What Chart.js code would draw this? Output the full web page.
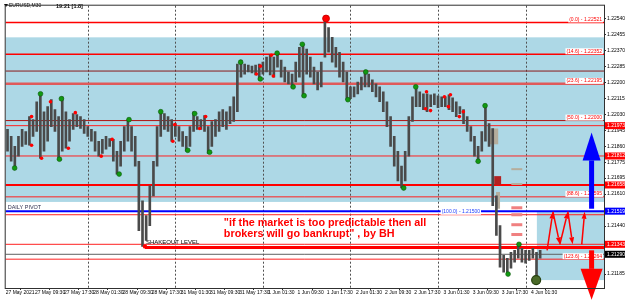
<!DOCTYPE html>
<html>
<head>
<meta charset="utf-8">
<script src="https://cdn.jsdelivr.net/npm/chart.js@4.4.0/dist/chart.umd.min.js"></script>
<style>
  html, body { margin: 0; padding: 0; background: #fff; }
  #wrap { width: 625px; height: 300px; }
</style>
</head>
<body>
<div id="wrap"><canvas id="chart" width="625" height="300"></canvas></div>
<script>
// ======== Data ========
// time axis (one unit = one trading hour from 27 May 01:30)
const timeLabels = ['27 May 2021', '27 May 09:30', '27 May 17:30', '28 May 01:30', '28 May 09:30',
  '28 May 17:30', '31 May 01:30', '31 May 09:30', '31 May 17:30', '1 Jun 01:30', '1 Jun 09:30',
  '1 Jun 17:30', '2 Jun 01:30', '2 Jun 09:30', '2 Jun 17:30', '3 Jun 01:30', '3 Jun 09:30',
  '3 Jun 17:30', '4 Jun 01:30'];
const daySeparators = [22.5, 46.5, 70.5, 94.5, 118.5, 142.5];

const priceTicks = [1.22540, 1.22455, 1.22370, 1.22285, 1.22200, 1.22115, 1.22030, 1.21945,
  1.21860, 1.21775, 1.21695, 1.21610, 1.21440, 1.21185];

// hourly bars EURUSD
const highs = [1.21953, 1.21916, 1.21863, 1.21916, 1.21953, 1.21942, 1.22021, 1.22005, 1.22100, 1.22142,
  1.22047, 1.22074, 1.22111, 1.22058, 1.22021, 1.22126, 1.22047, 1.22005, 1.22037, 1.22032,
  1.22021, 1.22005, 1.21968, 1.21953, 1.21942, 1.21890, 1.21900, 1.21916, 1.21905, 1.21900,
  1.21837, 1.21890, 1.21968, 1.22005, 1.21968, 1.21916, 1.21784, 1.21574, 1.21495, 1.21653,
  1.21784, 1.21968, 1.22047, 1.22037, 1.22021, 1.22005, 1.21984, 1.21968, 1.21942, 1.21916,
  1.21968, 1.22047, 1.22021, 1.22005, 1.22026, 1.21968, 1.21995, 1.22005, 1.22047, 1.22058,
  1.22047, 1.22074, 1.22126, 1.22300, 1.22321, 1.22300, 1.22295, 1.22289, 1.22295, 1.22300,
  1.22310, 1.22337, 1.22352, 1.22337, 1.22363, 1.22321, 1.22284, 1.22258, 1.22247, 1.22310,
  1.22389, 1.22405, 1.22379, 1.22337, 1.22284, 1.22258, 1.22310, 1.22542, 1.22494, 1.22442,
  1.22389, 1.22363, 1.22310, 1.22258, 1.22179, 1.22179, 1.22205, 1.22231, 1.22258, 1.22247,
  1.22216, 1.22195, 1.22179, 1.22153, 1.22100, 1.22021, 1.21916, 1.21837, 1.21758, 1.21837,
  1.22021, 1.22126, 1.22179, 1.22153, 1.22142, 1.22142, 1.22137, 1.22142, 1.22132, 1.22126,
  1.22126, 1.22137, 1.22121, 1.22100, 1.22074, 1.22058, 1.22021, 1.21968, 1.21916, 1.21863,
  1.21942, 1.22079, 1.21984, 1.21958, 1.21600, 1.21442, 1.21285, 1.21269, 1.21300, 1.21311,
  1.21343, 1.21322, 1.21311, 1.21311, 1.21322, 1.21300, 1.21311];
const lows = [1.21837, 1.21784, 1.21742, 1.21811, 1.21863, 1.21874, 1.21869, 1.21916, 1.21942, 1.21800,
  1.21837, 1.21890, 1.21968, 1.21942, 1.21795, 1.21837, 1.21853, 1.21890, 1.21953, 1.21968,
  1.21958, 1.21932, 1.21916, 1.21890, 1.21837, 1.21811, 1.21826, 1.21848, 1.21863, 1.21784,
  1.21716, 1.21758, 1.21837, 1.21890, 1.21837, 1.21758, 1.21416, 1.21332, 1.21364, 1.21442,
  1.21600, 1.21758, 1.21916, 1.21953, 1.21942, 1.21890, 1.21916, 1.21890, 1.21863, 1.21837,
  1.21863, 1.21942, 1.21953, 1.21953, 1.21942, 1.21826, 1.21863, 1.21916, 1.21942, 1.21968,
  1.21953, 1.21984, 1.21995, 1.22047, 1.22231, 1.22247, 1.22258, 1.22253, 1.22242, 1.22216,
  1.22247, 1.22258, 1.22242, 1.22231, 1.22284, 1.22231, 1.22205, 1.22195, 1.22174, 1.22205,
  1.22231, 1.22126, 1.22247, 1.22231, 1.22195, 1.22163, 1.22179, 1.22337, 1.22363, 1.22310,
  1.22284, 1.22231, 1.22205, 1.22111, 1.22116, 1.22126, 1.22142, 1.22163, 1.22179, 1.22179,
  1.22153, 1.22126, 1.22100, 1.22047, 1.21968, 1.21863, 1.21758, 1.21679, 1.21642, 1.21679,
  1.21811, 1.21995, 1.22074, 1.22074, 1.22058, 1.22047, 1.22074, 1.22084, 1.22068, 1.22074,
  1.22074, 1.22058, 1.22047, 1.22021, 1.22037, 1.21984, 1.21942, 1.21890, 1.21811, 1.21784,
  1.21837, 1.21890, 1.21863, 1.21548, 1.21390, 1.21222, 1.21195, 1.21185, 1.21216, 1.21248,
  1.21269, 1.21248, 1.21243, 1.21258, 1.21269, 1.21153, 1.21269];

// swing markers
const greenX = [2.45, 9.54, 15.27, 14.73, 31.1, 33.8, 42.5, 49.9, 51.8, 55.9, 64.4, 69.8, 74.4, 78.8,
  81.3, 81.8, 93.8, 98.7, 109.1, 112.4, 129.5, 131.4, 137.7, 140.7];
const greenY = [1.21748, 1.22142, 1.22116, 1.21795, 1.21716, 1.22005, 1.22047, 1.21842, 1.22037, 1.21832,
  1.22310, 1.22221, 1.22358, 1.22179, 1.22405, 1.22132, 1.22111, 1.22258, 1.21642, 1.22179,
  1.21784, 1.22079, 1.21185, 1.21343];
const redX = [7.09, 7.09, 9.82, 12.27, 17.18, 19.09, 26.18, 29.18, 45.81, 46.36, 53.18, 54.81,
  68.72, 69.81, 72.81, 73.36, 115.35, 120.26, 121.9, 115.08, 116.45, 121.35, 124.35, 125.44];
const redY = [1.22021, 1.21869, 1.21800, 1.22100, 1.21853, 1.22042, 1.21811, 1.21900, 1.21890, 1.21979,
  1.21958, 1.22021, 1.22247, 1.22289, 1.22347, 1.22237, 1.22153, 1.22126, 1.22137, 1.22063,
  1.22053, 1.22074, 1.22021, 1.22047];
const topPivot = [87.81, 1.22542];
const shakeoutPivot = [38.18, 1.21332];
const lastLow = [145.4, 1.21153];

// horizontal levels
const levelPrices = [1.22521, 1.22352, 1.22263, 1.22195, 1.22000, 1.21973, 1.21812, 1.21658,
  1.21595, 1.21500, 1.21343, 1.21290, 1.21264];
const dailyPivot = 1.21519;
const shakeoutLevel = 1.21326;
const fibNames = ['0.0', '14.6', '23.6', '50.0', '88.6', '100.0', '123.6'];
const fibPrices = [1.22521, 1.22352, 1.22195, 1.22000, 1.21595, 1.21500, 1.21264];
const axisMarkPrices = [1.21973, 1.21812, 1.21658, 1.21519, 1.21343, 1.21290];

// zones [start hour, end hour, top, bottom]
const zoneStart = [0, 145.6];
const zoneEnd = [164, 164];
const zoneTop = [1.22442, 1.21519];
const zoneBottom = [1.21568, 1.21153];

// blocks near the drop
const blockX0 = [132.5, 133.9, 134.4];
const blockX1 = [135.0, 135.8, 135.5];
const blockTop = [1.21958, 1.21705, 1.21621];
const blockBottom = [1.21874, 1.21658, 1.21532];
const dashGrey = [1.21742, 1.21663];
const dashPink = [1.21537, 1.21500, 1.21447, 1.21395];

// arrows
const zigHours = [148.4, 150.0, 151.9, 154.1, 155.4, 157.9, 158.7];
const zigPrices = [1.21311, 1.21516, 1.21343, 1.21516, 1.21343, 1.21343, 1.21516];
const bigArrowHour = 160.6;
const upArrow = [1.21532, 1.21937];
const downArrow = [1.21311, 1.21048];

const quoteLines = ['"if the market is too predictable then all', 'brokers will go bankrupt" , by BH'];

// ======== Styles ========
const FONT = '"Liberation Sans", Arial, sans-serif';
const BLUE_ZONE = '#add8e6';
const levelColors = ['#ff0000', '#ff0000', '#8b1a1a', '#e05a5a', '#b01010', '#ff2020', '#ff2020',
  '#ff0000', '#ff2020', '#ff2020', '#ff2020', '#606060', '#ff2020'];
const levelWidths = [1.5, 1.5, 1, 2.5, 1, 1, 1, 2, 1, 1, 1, 1, 1];
const axisMarkColors = ['#ff0000', '#ff0000', '#ff0000', '#0000ff', '#ff0000', '#000000'];

// ======== Helpers ========
function hline(ctx, x0, x1, y, color, w) {
  ctx.save();
  ctx.strokeStyle = color;
  ctx.lineWidth = w;
  ctx.beginPath();
  ctx.moveTo(x0, y);
  ctx.lineTo(x1, y);
  ctx.stroke();
  ctx.restore();
}

function arrow(ctx, x0, y0, x1, y1, color, w, head, headW) {
  const ang = Math.atan2(y1 - y0, x1 - x0);
  const bx = x1 - Math.cos(ang) * head, by = y1 - Math.sin(ang) * head;
  ctx.save();
  ctx.strokeStyle = color;
  ctx.fillStyle = color;
  ctx.lineWidth = w;
  ctx.beginPath();
  ctx.moveTo(x0, y0);
  ctx.lineTo(bx, by);
  ctx.stroke();
  ctx.beginPath();
  ctx.moveTo(x1, y1);
  ctx.lineTo(bx + Math.sin(ang) * headW, by - Math.cos(ang) * headW);
  ctx.lineTo(bx - Math.sin(ang) * headW, by + Math.cos(ang) * headW);
  ctx.closePath();
  ctx.fill();
  ctx.restore();
}

// ======== Plugins ========
const backgroundPlugin = {
  id: 'background',
  beforeDatasetsDraw(chart) {
    const { ctx, chartArea: a, scales: { x, y } } = chart;
    ctx.save();
    // blue zones
    ctx.fillStyle = BLUE_ZONE;
    zoneStart.forEach((s, i) => {
      const x0 = Math.max(a.left, x.getPixelForValue(s));
      const x1 = Math.min(a.right, x.getPixelForValue(zoneEnd[i]));
      const y0 = y.getPixelForValue(zoneTop[i]);
      const y1 = y.getPixelForValue(zoneBottom[i]);
      ctx.fillRect(x0, y0, x1 - x0, y1 - y0);
    });
    // day separators
    ctx.strokeStyle = '#505050';
    ctx.lineWidth = 1;
    ctx.setLineDash([2, 2]);
    daySeparators.forEach(h => {
      const px = Math.round(x.getPixelForValue(h)) + 0.5;
      ctx.beginPath();
      ctx.moveTo(px, a.top);
      ctx.lineTo(px, a.bottom);
      ctx.stroke();
    });
    ctx.setLineDash([]);
    // levels
    levelPrices.forEach((p, i) => {
      hline(ctx, a.left, a.right, y.getPixelForValue(p), levelColors[i], levelWidths[i]);
    });
    hline(ctx, a.left, a.right, y.getPixelForValue(dailyPivot), '#0000ff', 2);
    hline(ctx, x.getPixelForValue(shakeoutPivot[0]), a.right, y.getPixelForValue(shakeoutLevel), '#ff0000', 3);
    // blocks
    blockX0.forEach((b, i) => {
      ctx.fillStyle = i === 1 ? '#b22222' : '#b5ad9c';
      const x0 = x.getPixelForValue(b), x1 = x.getPixelForValue(blockX1[i]);
      const y0 = y.getPixelForValue(blockTop[i]), y1 = y.getPixelForValue(blockBottom[i]);
      ctx.fillRect(x0, y0, x1 - x0, y1 - y0);
    });
    const dx0 = x.getPixelForValue(138.6), dx1 = x.getPixelForValue(141.6);
    ctx.fillStyle = '#b5ad9c';
    dashGrey.forEach(p => ctx.fillRect(dx0, y.getPixelForValue(p) - 1, dx1 - dx0, 2));
    ctx.fillStyle = '#f08080';
    dashPink.forEach(p => ctx.fillRect(dx0, y.getPixelForValue(p) - 1.5, dx1 - dx0, 3));
    ctx.restore();
  },
  afterDatasetsDraw(chart) {
    const { ctx, chartArea: a, scales: { x, y } } = chart;
    ctx.save();
    // texts
    ctx.textBaseline = 'middle';
    ctx.fillStyle = '#303050';
    ctx.font = '5.5px ' + FONT;
    ctx.fillText('DAILY PIVOT', a.left + 2, y.getPixelForValue(dailyPivot) - 4);
    ctx.fillStyle = '#000';
    ctx.font = '6px ' + FONT;
    ctx.fillText('SHAKEOUT LEVEL', x.getPixelForValue(shakeoutPivot[0]) + 1, y.getPixelForValue(shakeoutLevel) - 5);
    ctx.fillStyle = '#ff0000';
    ctx.font = 'bold 10.8px ' + FONT;
    quoteLines.forEach((t, i) => ctx.fillText(t, x.getPixelForValue(59.8), 223 + i * 11));

    // fib labels
    ctx.font = '5px ' + FONT;
    fibNames.forEach((n, i) => {
      const t = '(' + n + ') - ' + fibPrices[i].toFixed(5);
      const w = ctx.measureText(t).width;
      const py = y.getPixelForValue(fibPrices[i]) - 3;
      const px = n === '100.0' ? x.getPixelForValue(119.5) : a.right - w - 2;
      ctx.fillStyle = '#ffffff';
      ctx.fillRect(px - 1, py - 3, w + 2, 6);
      ctx.fillStyle = n === '100.0' ? '#2040ff' : '#ff0000';
      ctx.fillText(t, px, py);
    });

    // zigzag arrows
    for (let i = 0; i < zigHours.length - 1; i++) {
      if (i === 4) continue;
      arrow(ctx, x.getPixelForValue(zigHours[i]), y.getPixelForValue(zigPrices[i]),
        x.getPixelForValue(zigHours[i + 1]), y.getPixelForValue(zigPrices[i + 1]), '#ff0000', 1.5, 7, 2.5);
    }
    // big arrows
    const bx = x.getPixelForValue(bigArrowHour);
    arrow(ctx, bx, y.getPixelForValue(upArrow[0]), bx, y.getPixelForValue(upArrow[1]), '#0000ff', 5, 28, 9);
    arrow(ctx, bx, y.getPixelForValue(downArrow[0]), bx, y.getPixelForValue(downArrow[1]), '#ff0000', 5, 31, 11);

    // title
    ctx.fillStyle = '#000';
    ctx.beginPath();
    ctx.moveTo(4, 4); ctx.lineTo(8, 4); ctx.lineTo(6, 7); ctx.closePath(); ctx.fill();
    ctx.font = '5px ' + FONT;
    ctx.fillText('EURUSD,M30', 9, 6);
    ctx.font = 'bold 5.5px ' + FONT;
    ctx.fillText('19:21 [1.8]', 56, 6);
    ctx.restore();
  },
  afterDraw(chart) {
    const { ctx, chartArea: a, scales: { y } } = chart;
    ctx.save();
    // frame
    ctx.strokeStyle = '#303030';
    ctx.lineWidth = 1;
    ctx.strokeRect(a.left - 0.5, a.top - 0.5, a.right - a.left + 1, a.bottom - a.top + 1);
    // price marks on the axis
    ctx.font = '5px ' + FONT;
    ctx.textBaseline = 'middle';
    axisMarkPrices.forEach((p, i) => {
      const py = y.getPixelForValue(p);
      ctx.fillStyle = axisMarkColors[i];
      ctx.fillRect(a.right + 1, py - 3.5, 20, 7);
      ctx.fillStyle = '#fff';
      ctx.fillText(p.toFixed(5), a.right + 3, py);
    });
    ctx.restore();
  }
};

// ======== Chart ========
const bars = highs.map((h, i) => ({ x: i + 0.5, y: [lows[i], h] }));
const toPts = (xs, ys) => xs.map((v, i) => ({ x: v, y: ys[i] }));

new Chart(document.getElementById('chart').getContext('2d'), {
  type: 'bar',
  data: {
    datasets: [
      { type: 'bar', data: bars, backgroundColor: '#4a4a4a', barThickness: 2, order: 3 },
      { type: 'scatter', data: toPts(greenX, greenY), pointRadius: 2.4, backgroundColor: '#119911',
        borderColor: '#0a5a0a', borderWidth: 0.6, order: 1 },
      { type: 'scatter', data: toPts(redX, redY), pointRadius: 1.8, backgroundColor: '#ff0000',
        borderWidth: 0, order: 1 },
      { type: 'scatter', data: [{ x: topPivot[0], y: topPivot[1] }], pointRadius: 3.4,
        backgroundColor: '#ff0000', borderColor: '#cc0000', order: 1 },
      { type: 'scatter', data: [{ x: shakeoutPivot[0], y: shakeoutPivot[1] }], pointRadius: 2.2,
        backgroundColor: '#ff0000', borderWidth: 0, order: 1 },
      { type: 'scatter', data: [{ x: lastLow[0], y: lastLow[1] }], pointRadius: 4.5,
        backgroundColor: '#4a6a28', borderColor: '#26400f', borderWidth: 1.2, order: 1 }
    ]
  },
  options: {
    responsive: false,
    animation: false,
    devicePixelRatio: 1,
    layout: { padding: { left: 3, top: 3, right: 0, bottom: 0 } },
    plugins: { legend: { display: false }, tooltip: { enabled: false } },
    scales: {
      x: {
        type: 'linear', min: 0, max: 164, offset: false,
        grid: { drawOnChartArea: false, tickLength: 2, color: '#303030' },
        border: { color: '#303030' },
        ticks: {
          autoSkip: false, maxRotation: 0, align: 'start', padding: 0,
          font: { size: 5, family: FONT }, color: '#000',
          callback: v => timeLabels[v / 8]
        },
        afterBuildTicks: s => { s.ticks = timeLabels.map((t, i) => ({ value: i * 8 })); },
        afterFit: s => { s.height = 12; }
      },
      y: {
        type: 'linear', position: 'right', min: 1.21111, max: 1.22610,
        grid: { drawOnChartArea: false, tickLength: 2, color: '#303030' },
        border: { color: '#303030' },
        ticks: {
          padding: 1, font: { size: 5, family: FONT }, color: '#000',
          callback: v => v.toFixed(5)
        },
        afterBuildTicks: s => { s.ticks = priceTicks.map(v => ({ value: v })); },
        afterFit: s => { s.width = 21; }
      }
    }
  },
  plugins: [backgroundPlugin]
});
</script>
</body>
</html>
